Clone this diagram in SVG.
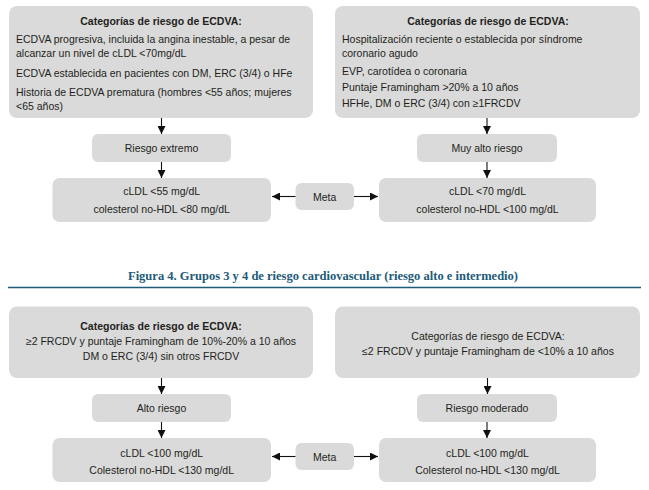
<svg xmlns="http://www.w3.org/2000/svg" width="649" height="490" viewBox="0 0 649 490">
<defs>
<marker id="ah" viewBox="0 0 10 10" refX="10" refY="5" markerWidth="8" markerHeight="8" markerUnits="userSpaceOnUse" orient="auto">
<path d="M0,0 L10,5 L0,10 z" fill="#111"/>
</marker>
<style>
.box{fill:#dadada;}
.t{font-family:"Liberation Sans",Arial,sans-serif;font-size:10.5px;fill:#231f20;}
.c{text-anchor:middle;}
.b{font-weight:bold;}
.conn line{stroke:#111;stroke-width:1.1;marker-end:url(#ah);}
.cap{font-family:"Liberation Serif","Times New Roman",serif;font-size:12px;font-weight:bold;fill:#1d5b79;text-anchor:middle;}
</style>
</defs>
<rect width="649" height="490" fill="#fff"/>

<g id="cat-extremo">
<rect class="box" x="9" y="6" width="304" height="112" rx="8"/>
<text class="t b c" x="161" y="24.5">Categorías de riesgo de ECDVA:</text>
<text class="t" x="16" y="42.5">ECDVA progresiva, incluida la angina inestable, a pesar de</text>
<text class="t" x="16" y="56.5">alcanzar un nivel de cLDL &lt;70mg/dL</text>
<text class="t" x="16" y="77">ECDVA establecida en pacientes con DM, ERC (3/4) o HFe</text>
<text class="t" x="16" y="96">Historia de ECDVA prematura (hombres &lt;55 años; mujeres</text>
<text class="t" x="16" y="109.5">&lt;65 años)</text>
</g>

<g id="cat-muyalto">
<rect class="box" x="335" y="6" width="305" height="112" rx="8"/>
<text class="t b c" x="488" y="24.5">Categorías de riesgo de ECDVA:</text>
<text class="t" x="342" y="42.5">Hospitalización reciente o establecida por síndrome</text>
<text class="t" x="342" y="56.5">coronario agudo</text>
<text class="t" x="342" y="74.5">EVP, carotídea o coronaria</text>
<text class="t" x="342" y="91">Puntaje Framingham &gt;20% a 10 años</text>
<text class="t" x="342" y="106.5">HFHe, DM o ERC (3/4) con ≥1FRCDV</text>
</g>

<g id="riesgo-extremo">
<rect class="box" x="92" y="134" width="139" height="28" rx="6"/>
<text class="t c" x="161.5" y="151.5">Riesgo extremo</text>
</g>

<g id="muy-alto-riesgo">
<rect class="box" x="417" y="134" width="140" height="28" rx="6"/>
<text class="t c" x="487" y="151.5">Muy alto riesgo</text>
</g>

<g id="meta-extremo">
<rect class="box" x="52.5" y="178" width="218.5" height="44" rx="7"/>
<text class="t c" x="161.7" y="195">cLDL &lt;55 mg/dL</text>
<text class="t c" x="161.7" y="212.5">colesterol no-HDL &lt;80 mg/dL</text>
</g>

<g id="meta1">
<rect class="box" x="295.5" y="183" width="58.5" height="27" rx="6"/>
<text class="t c" x="324.7" y="200.5">Meta</text>
</g>

<g id="meta-muyalto">
<rect class="box" x="379" y="178" width="217" height="44" rx="7"/>
<text class="t c" x="487.5" y="195">cLDL &lt;70 mg/dL</text>
<text class="t c" x="487.5" y="212.5">colesterol no-HDL &lt;100 mg/dL</text>
</g>

<g id="caption">
<text class="cap" x="323" y="280" textLength="390" lengthAdjust="spacingAndGlyphs">Figura 4. Grupos 3 y 4 de riesgo cardiovascular (riesgo alto e intermedio)</text>
<line x1="8" y1="287.5" x2="641" y2="287.5" stroke="#1d5b79" stroke-width="1.5"/>
</g>

<g id="cat-alto">
<rect class="box" x="9" y="306.5" width="304" height="71.5" rx="8"/>
<text class="t b c" x="161" y="329.5">Categorías de riesgo de ECDVA:</text>
<text class="t c" x="161" y="345">≥2 FRCDV y puntaje Framingham de 10%-20% a 10 años</text>
<text class="t c" x="161" y="360">DM o ERC (3/4) sin otros FRCDV</text>
</g>

<g id="cat-moderado">
<rect class="box" x="335" y="306.5" width="305" height="71.5" rx="8"/>
<text class="t c" x="488" y="339.5">Categorías de riesgo de ECDVA:</text>
<text class="t c" x="488" y="355">≤2 FRCDV y puntaje Framingham de &lt;10% a 10 años</text>
</g>

<g id="alto-riesgo">
<rect class="box" x="92" y="394" width="139" height="28" rx="6"/>
<text class="t c" x="161.5" y="411.8">Alto riesgo</text>
</g>

<g id="riesgo-moderado">
<rect class="box" x="417" y="394" width="140" height="28" rx="6"/>
<text class="t c" x="487" y="411.8">Riesgo moderado</text>
</g>

<g id="meta-alto">
<rect class="box" x="52.5" y="438" width="218.5" height="44" rx="7"/>
<text class="t c" x="161.7" y="456.8">cLDL &lt;100 mg/dL</text>
<text class="t c" x="161.7" y="474">Colesterol no-HDL &lt;130 mg/dL</text>
</g>

<g id="meta2">
<rect class="box" x="295.5" y="443" width="58.5" height="27" rx="6"/>
<text class="t c" x="324.7" y="460.8">Meta</text>
</g>

<g id="meta-moderado">
<rect class="box" x="379" y="438" width="217" height="44" rx="7"/>
<text class="t c" x="487.5" y="456.8">cLDL &lt;100 mg/dL</text>
<text class="t c" x="487.5" y="474">Colesterol no-HDL &lt;130 mg/dL</text>
</g>

<g id="connectors" class="conn">
<line x1="161.5" y1="118" x2="161.5" y2="134"/>
<line x1="487" y1="118" x2="487" y2="134"/>
<line x1="161.5" y1="162" x2="161.5" y2="178"/>
<line x1="487" y1="162" x2="487" y2="178"/>
<line x1="295.5" y1="196.5" x2="272" y2="196.5"/>
<line x1="354" y1="196.5" x2="378" y2="196.5"/>
<line x1="161.5" y1="378" x2="161.5" y2="394"/>
<line x1="487.5" y1="378" x2="487.5" y2="394"/>
<line x1="161.5" y1="422" x2="161.5" y2="438"/>
<line x1="487" y1="422" x2="487" y2="438"/>
<line x1="295.5" y1="456.5" x2="272" y2="456.5"/>
<line x1="354" y1="456.5" x2="378" y2="456.5"/>
</g>
</svg>
